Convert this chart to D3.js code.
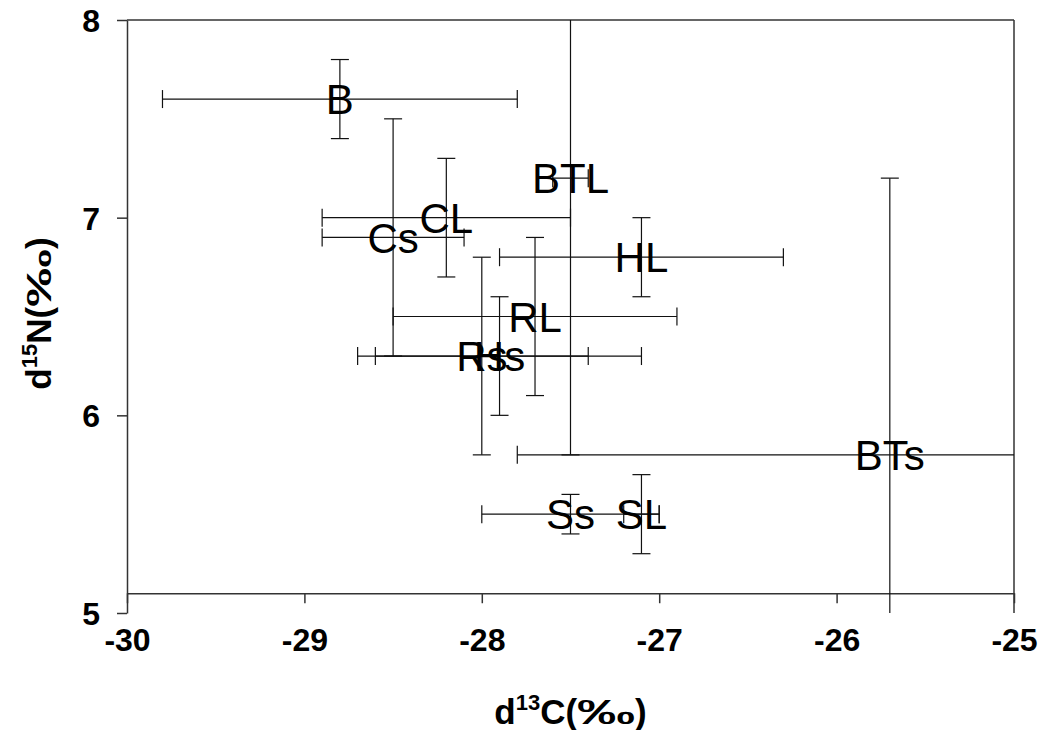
<!DOCTYPE html>
<html>
<head>
<meta charset="utf-8">
<script src="https://cdn.jsdelivr.net/npm/d3@7"></script>
<style>
    body { margin: 0; background: #fff; }
    text { font-family: "Liberation Sans", Arial, sans-serif; }
</style>
</head>
<body>
<div id="chart"></div>
<script>

// sample groups (L = leaf, s = stem)
var labels = ["B", "BTL", "CL", "Cs", "HL", "RL", "Rs", "Hs", "BTs", "Ss", "SL"];
var d13C = [-28.8, -27.5, -28.2, -28.5, -27.1, -27.7, -28.0, -27.9, -25.7, -27.5, -27.1];
var d15N = [7.6, 7.2, 7.0, 6.9, 6.8, 6.5, 6.3, 6.3, 5.8, 5.5, 5.5];
var errC = [1.0, 0.1, 0.7, 0.4, 0.8, 0.8, 0.6, 0.8, 2.1, 0.5, 0.1];
var errN = [0.2, 1.4, 0.3, 0.6, 0.2, 0.4, 0.5, 0.3, 1.4, 0.1, 0.2];

var xTicks = [-30, -29, -28, -27, -26, -25];
var yTicks = [5, 6, 7, 8];

var points = labels.map(function (d, i) {
    return {'label': d, 'x': d13C[i], 'y': d15N[i], 'ex': errC[i], 'ey': errN[i]};
});

// note: "top" is a read-only window property, so keep the box in one object
var box = {"width": 1041, "height": 730, "left": 127, "right": 1014, "top": 20, "bottom": 613};
var capHalf = 9;

var svg = d3.select("#chart").append("svg")
    .attr("width", box.width)
    .attr("height", box.height);

var x = d3.scaleLinear().domain([-30, -25]).range([box.left, box.right]);
var y = d3.scaleLinear().domain([5, 8]).range([box.bottom, box.top]);

svg.append("defs").append("clipPath")
    .attr("id", "plotClip")
    .append("rect")
    .attr("x", x(-30))
    .attr("y", y(8))
    .attr("width", x(-25) - x(-30))
    .attr("height", y(5) - y(8));

// frame: top and right edges
svg.append("line")
    .attr("x1", x(-30)).attr("x2", x(-25))
    .attr("y1", y(8)).attr("y2", y(8))
    .attr("stroke", "#333").attr("stroke-width", 1.5);
svg.append("line")
    .attr("x1", x(-25)).attr("x2", x(-25))
    .attr("y1", y(8)).attr("y2", y(5))
    .attr("stroke", "#333").attr("stroke-width", 1.5);

// axes
var xAxis = svg.append("g")
    .attr("transform", "translate(0," + y(5.1) + ")")
    .call(d3.axisBottom(x)
        .tickValues(xTicks)
        .tickFormat(function (d) { return String(d); })
        .tickSize(10)
        .tickSizeOuter(0)
        .tickPadding(25));

var yAxis = svg.append("g")
    .attr("transform", "translate(" + x(-30) + ",0)")
    .call(d3.axisLeft(y)
        .tickValues(yTicks)
        .tickFormat(function (d) { return String(d); })
        .tickSize(10)
        .tickSizeOuter(0)
        .tickPadding(17));

[xAxis, yAxis].forEach(function (g) {
    g.select(".domain").attr("stroke", "#333").attr("stroke-width", 1.5);
    g.selectAll(".tick line").attr("stroke", "#333").attr("stroke-width", 1.5);
    g.selectAll(".tick text")
        .attr("fill", "#000")
        .style("font-size", "32px")
        .style("font-weight", "bold")
        .style("font-family", "'Liberation Sans', Arial, sans-serif");
});
yAxis.selectAll(".tick text").attr("dy", "0.36em");

// error bars
var bars = svg.append("g").attr("clip-path", "url(#plotClip)")
    .selectAll("g")
    .data(points)
    .enter()
    .append("g")
    .attr("stroke", "#111")
    .attr("stroke-width", 1.2);

bars.append("line")
    .attr("x1", function (d) { return x(d.x - d.ex); })
    .attr("x2", function (d) { return x(d.x + d.ex); })
    .attr("y1", function (d) { return y(d.y); })
    .attr("y2", function (d) { return y(d.y); });

bars.append("line")
    .attr("x1", function (d) { return x(d.x); })
    .attr("x2", function (d) { return x(d.x); })
    .attr("y1", function (d) { return y(d.y - d.ey); })
    .attr("y2", function (d) { return y(d.y + d.ey); });

[-1, 1].forEach(function (s) {
    bars.append("line")
        .attr("x1", function (d) { return x(d.x + s * d.ex); })
        .attr("x2", function (d) { return x(d.x + s * d.ex); })
        .attr("y1", function (d) { return y(d.y) - capHalf; })
        .attr("y2", function (d) { return y(d.y) + capHalf; });
    bars.append("line")
        .attr("x1", function (d) { return x(d.x) - capHalf; })
        .attr("x2", function (d) { return x(d.x) + capHalf; })
        .attr("y1", function (d) { return y(d.y + s * d.ey); })
        .attr("y2", function (d) { return y(d.y + s * d.ey); });
});

// point labels
svg.append("g")
    .selectAll("text")
    .data(points)
    .enter()
    .append("text")
    .attr("x", function (d) { return x(d.x); })
    .attr("y", function (d) { return y(d.y); })
    .attr("dy", "0.36em")
    .attr("text-anchor", "middle")
    .style("font-size", "42px")
    .attr("fill", "#000")
    .text(function (d) { return d.label; });

// axis titles: d + superscript + element (per mil sign drawn wide as in the original)
function axisTitle(sel, sup, element) {
    sel.style("font-size", "35px").style("font-weight", "bold");
    sel.append("tspan").text("d");
    sel.append("tspan").attr("dy", -14).style("font-size", "22px").text(sup);
    sel.append("tspan").attr("dy", 14).text(element + "(");
    sel.append("tspan")
        .attr("textLength", 58)
        .attr("lengthAdjust", "spacingAndGlyphs")
        .text("\u2030");
    sel.append("tspan").text(")");
}

var xTitle = svg.append("text")
    .attr("x", (box.left + box.right) / 2)
    .attr("y", 724)
    .attr("text-anchor", "middle");
axisTitle(xTitle, "13", "C");

var yTitle = svg.append("text")
    .attr("transform", "translate(51," + ((box.top + box.bottom) / 2 - 3) + ") rotate(-90)")
    .attr("text-anchor", "middle");
axisTitle(yTitle, "15", "N");

</script>
</body>
</html>
